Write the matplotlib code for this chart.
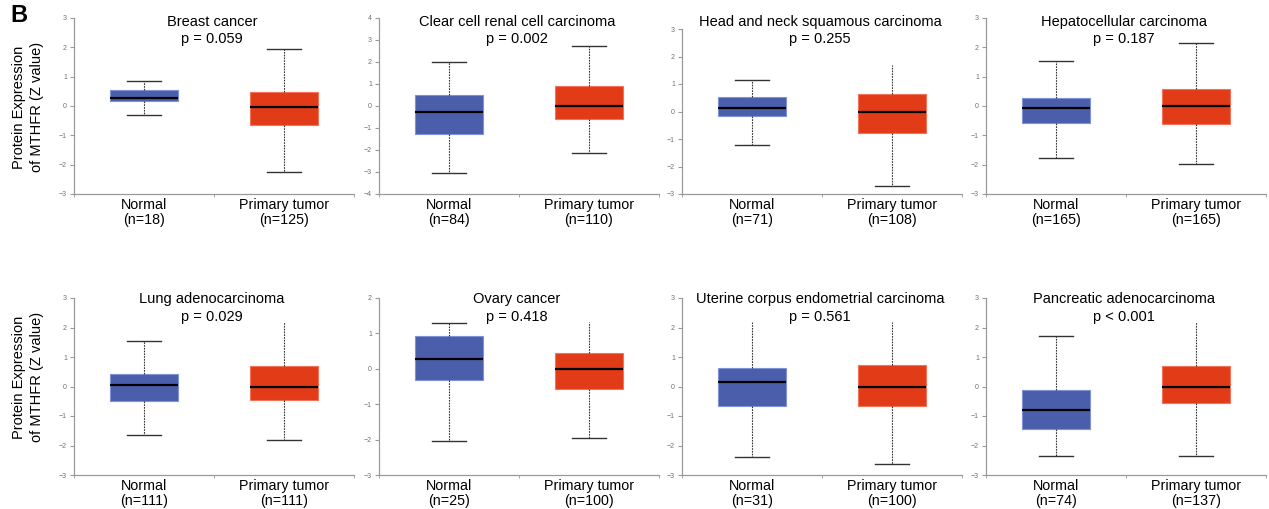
import matplotlib
matplotlib.use("Agg")
import matplotlib.pyplot as plt

plt.rcParams['font.family'] = ['Liberation Sans', 'DejaVu Sans']

# -------------------------------
# Data
# -------------------------------
titles = ['Breast cancer', 'Clear cell renal cell carcinoma',
          'Head and neck squamous carcinoma', 'Hepatocellular carcinoma',
          'Lung adenocarcinoma', 'Ovary cancer',
          'Uterine corpus endometrial carcinoma', 'Pancreatic adenocarcinoma']
p_labels = ['p = 0.059', 'p = 0.002', 'p = 0.255', 'p = 0.187',
            'p = 0.029', 'p = 0.418', 'p = 0.561', 'p < 0.001']
n_normal = [18, 84, 71, 165, 111, 25, 31, 74]
n_tumor = [125, 110, 108, 165, 111, 100, 100, 137]

# (low whisker, q1, median, q3, high whisker)
normal_stats = [(-0.32, 0.18, 0.27, 0.53, 0.84),
                (-3.03, -1.27, -0.29, 0.52, 1.98),
                (-1.22, -0.16, 0.12, 0.54, 1.13),
                (-1.77, -0.57, -0.08, 0.28, 1.53),
                (-1.63, -0.48, 0.06, 0.43, 1.55),
                (-2.05, -0.32, 0.28, 0.94, 1.29),
                (-2.39, -0.66, 0.15, 0.63, 2.17),
                (-2.37, -1.45, -0.80, -0.12, 1.70)]
tumor_stats = [(-2.24, -0.65, -0.03, 0.47, 1.95),
               (-2.12, -0.59, 0.00, 0.92, 2.74),
               (-2.70, -0.78, 0.00, 0.65, 1.70),
               (-1.99, -0.60, -0.01, 0.59, 2.14),
               (-1.81, -0.45, 0.00, 0.70, 2.17),
               (-1.96, -0.57, -0.01, 0.46, 1.31),
               (-2.64, -0.65, 0.00, 0.74, 2.17),
               (-2.34, -0.57, 0.00, 0.71, 2.17)]
# top cap drawn or hidden in the source image
normal_top_cap = [True, True, True, True, True, True, False, True]
tumor_top_cap = [True, True, False, True, False, False, False, False]

y_ranges = [(-3, 3), (-4, 4), (-3, 3), (-3, 3), (-3, 3), (-3, 2), (-3, 3), (-3, 3)]

# -------------------------------
# Layout (pixels of a 1269x509 canvas)
# -------------------------------
W, H = 1269, 509
lefts = [74, 379, 682, 986]
ax_w = 280
# (top, bottom) of each axis box in pixels
row_px = [[(18, 194), (18, 194), (29, 194), (18, 194)],
          [(298, 475), (298, 475), (298, 475), (298, 475)]]
title_y = [(22, 39), (299, 317)]

blue = '#4A5EAC'
red = '#E23B18'
blue_edge = '#7F92D6'
red_edge = '#F2735A'
grey = '#9A9A9A'

fig = plt.figure(figsize=(W / 100, H / 100), dpi=100)

for i in range(8):
    row, col = divmod(i, 4)
    top, bot = row_px[row][col]
    ax = fig.add_axes([lefts[col] / W, 1 - bot / H, ax_w / W, (bot - top) / H])

    stats = []
    for s, lab in ((normal_stats[i], 'Normal'), (tumor_stats[i], 'Primary tumor')):
        stats.append({'whislo': s[0], 'q1': s[1], 'med': s[2], 'q3': s[3],
                      'whishi': s[4], 'label': lab})
    bp = ax.bxp(stats, positions=[0.5, 1.5], widths=0.48, patch_artist=True,
                showfliers=False, capwidths=0.24,
                medianprops=dict(color='black', lw=1.6),
                whiskerprops=dict(color='#333333', lw=0.8, linestyle=(0, (1.5, 1))),
                capprops=dict(color='#333333', lw=1.0))
    for patch, fc, ec in zip(bp['boxes'], [blue, red], [blue_edge, red_edge]):
        patch.set_facecolor(fc)
        patch.set_edgecolor(ec)
        patch.set_linewidth(0.8)
    # caps order: normal low, normal high, tumor low, tumor high
    bp['caps'][1].set_visible(normal_top_cap[i])
    bp['caps'][3].set_visible(tumor_top_cap[i])

    lo, hi = y_ranges[i]
    ax.set_ylim(lo, hi)
    ax.set_xlim(0, 2)
    ax.set_yticks(range(lo, hi + 1))
    ax.set_xticks([0.5, 1.5])
    ax.set_xticklabels(['Normal\n(n=%d)' % n_normal[i],
                        'Primary tumor\n(n=%d)' % n_tumor[i]],
                       fontsize=10.3, linespacing=1.05)
    ax.set_xticks([0, 1, 2], minor=True)
    ax.tick_params(axis='x', which='major', length=0, pad=3, colors='black')
    ax.tick_params(axis='x', which='minor', length=2, color=grey)
    ax.tick_params(axis='y', length=3, width=0.8, color=grey, labelsize=5,
                   labelcolor='#707070', pad=2)
    for side in ['top', 'right']:
        ax.spines[side].set_visible(False)
    for side in ['left', 'bottom']:
        ax.spines[side].set_color(grey)
        ax.spines[side].set_linewidth(0.9)

    cx = (lefts[col] + ax_w / 2 - 2) / W
    fig.text(cx, 1 - title_y[row][0] / H, titles[i], ha='center', va='center', fontsize=10.5)
    fig.text(cx, 1 - title_y[row][1] / H, p_labels[i], ha='center', va='center', fontsize=10.5)

for yc in [107, 377]:
    fig.text(28 / W, 1 - yc / H, 'Protein Expression\nof MTHFR (Z value)',
             rotation=90, ha='center', va='center', fontsize=10.5, linespacing=1.35)

fig.text(10 / W, 1 - 15 / H, 'B', fontsize=17, fontweight='bold', ha='left', va='center')

fig.savefig('out.png', dpi=100)
